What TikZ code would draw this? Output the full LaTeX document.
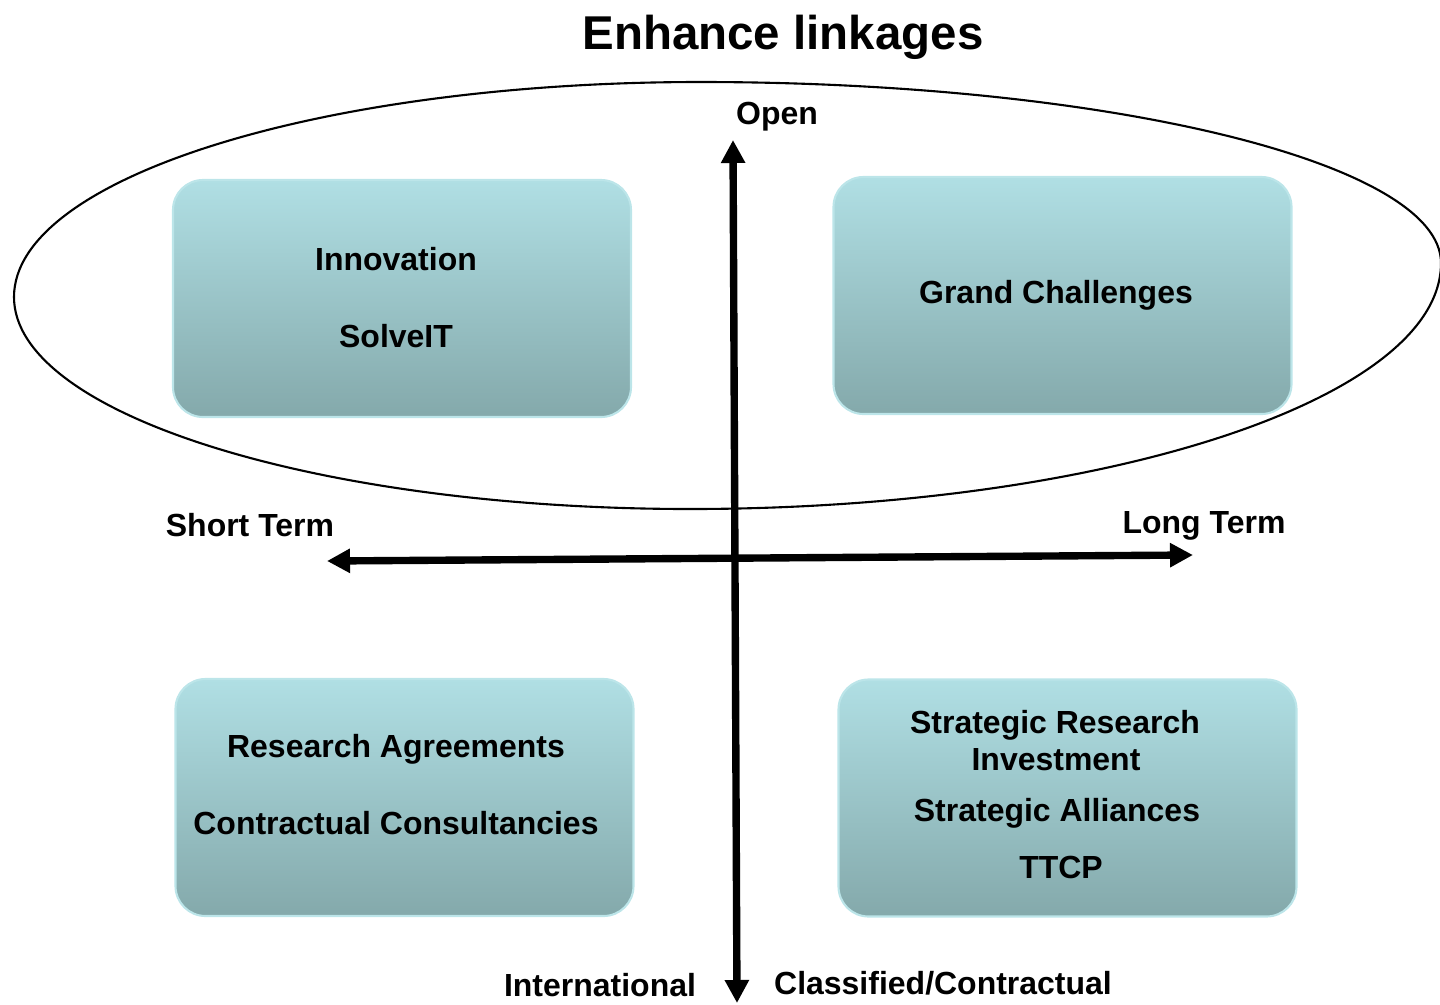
\documentclass[tikz,border=0pt]{standalone}
\usepackage{fontspec}
\setmainfont{Liberation Sans}
\usetikzlibrary{arrows.meta}
\definecolor{boxtop}{RGB}{176,223,228}
\definecolor{boxbot}{RGB}{132,169,171}
\definecolor{boxline}{RGB}{188,229,233}

\begin{document}
\begin{tikzpicture}[>={Triangle[length=0.23cm,width=0.23cm]}, scale=1.0,
  quad/.style={rectangle, rounded corners=0.3cm, draw=boxline, line width=0.6pt,
    top color=boxtop, bottom color=boxbot, minimum width=4.58cm, minimum height=2.37cm},
  txt/.style={font=\fontsize{9.1}{11}\selectfont\bfseries, anchor=base, inner sep=0pt},
  axis/.style={<->, line width=2.1pt}]
  \useasboundingbox (0,0) rectangle (14.4,-10.04);
  \node[txt, font=\fontsize{13.5}{16}\selectfont\bfseries] (title) at (7.83,-0.49) {Enhance linkages};
  % the open region
  \draw[line width=0.6pt] (0.14,-2.97) .. controls (0.14,-1.78) and (3.21,-0.82) .. (7.00,-0.82)
    .. controls (11.09,-0.82) and (14.41,-1.63) .. (14.41,-2.63)
    .. controls (14.41,-3.99) and (11.05,-5.09) .. (6.90,-5.09)
    .. controls (3.17,-5.09) and (0.14,-4.14) .. (0.14,-2.97);
  % four quadrants
  \node[quad] (innov) at (4.02,-2.985) {};
  \node[quad] (grand) at (10.625,-2.955) {};
  \node[quad] (research) at (4.045,-7.975) {};
  \node[quad] (strategic) at (10.675,-7.98) {};
  \node[txt] (innovation) at (3.96,-2.70) {Innovation};
  \node[txt] (solveit) at (3.96,-3.47) {SolveIT};
  \node[txt] (challenges) at (10.56,-3.03) {Grand Challenges};
  \node[txt] (agreements) at (3.96,-7.575) {Research Agreements};
  \node[txt] (consult) at (3.96,-8.34) {Contractual Consultancies};
  \node[txt] (sri) at (10.55,-7.33) {Strategic Research};
  \node[txt] (invest) at (10.56,-7.70) {Investment};
  \node[txt] (alliances) at (10.57,-8.21) {Strategic Alliances};
  \node[txt] (ttcp) at (10.61,-8.78) {TTCP};
  % axes
  \coordinate (top) at (7.33,-1.40);
  \coordinate (bottom) at (7.37,-10.03);
  \coordinate (left) at (3.27,-5.61);
  \coordinate (right) at (11.93,-5.55);
  \draw[axis] (bottom) -- (top);
  \draw[axis] (left) -- (right);
  \node[txt] (open) at (7.77,-1.24) {Open};
  \node[txt] (short) at (2.50,-5.36) {Short Term};
  \node[txt] (long) at (12.04,-5.33) {Long Term};
  \node[txt] (intl) at (6.00,-9.96) {International};
  \node[txt] (classified) at (9.43,-9.94) {Classified/Contractual};
\end{tikzpicture}
\end{document}
